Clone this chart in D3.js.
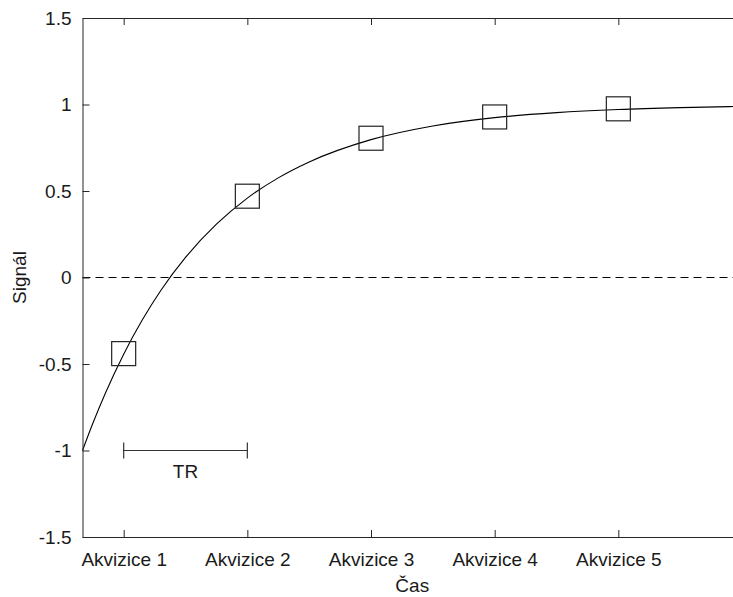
<!DOCTYPE html>
<html>
<head>
<meta charset="utf-8">
<script src="https://cdn.jsdelivr.net/npm/d3@7"></script>
<style>
  body { margin: 0; background: #fff; }
  text { font-family: "Liberation Sans", Arial, Helvetica, sans-serif; fill: #1a1a1a; }
</style>
</head>
<body>
<div id="wrapper"></div>
<script>
// data
const tickLabels = ["Akvizice 1", "Akvizice 2", "Akvizice 3", "Akvizice 4", "Akvizice 5"];
const acqTimes = [1, 2, 3, 4, 5];
const acqSignal = [-0.44, 0.47, 0.805, 0.928, 0.975];
const curveTime = [0.667, 0.75, 0.85, 1, 1.15, 1.3, 1.5, 1.75, 2, 2.25, 2.5, 3, 3.5, 4, 4.5, 5, 5.5, 6];
const curveSignal = [-1, -0.844, -0.672, -0.443, -0.246, -0.075, 0.116, 0.308, 0.459, 0.576, 0.668, 0.797, 0.876, 0.924, 0.953, 0.971, 0.982, 0.989];
const yTicks = [-1.5, -1, -0.5, 0, 0.5, 1, 1.5];
const trSpan = [1, 2];
const trLevel = -1;

const drawChart = () => {
    const width = 733, height = 597;
    let dimensions = {
        width: width,
        height: height,
        margin: { top: 18, right: -9, bottom: 60, left: 82.5 }
    };
    dimensions.boundedWidth = dimensions.width - dimensions.margin.left - dimensions.margin.right;
    dimensions.boundedHeight = dimensions.height - dimensions.margin.top - dimensions.margin.bottom;

    const svg = d3.select("#wrapper")
        .append("svg")
        .attr("width", dimensions.width)
        .attr("height", dimensions.height);

    const bounds = svg.append("g")
        .attr("transform", `translate(${dimensions.margin.left}, ${dimensions.margin.top})`);

    const xScale = d3.scaleLinear()
        .domain([0.667, 6])
        .range([0, dimensions.boundedWidth]);

    const yScale = d3.scaleLinear()
        .domain([-1.5, 1.5])
        .range([dimensions.boundedHeight, 0]);

    const axisColor = "#262626";
    const fs = "19px";

    // dashed zero line
    bounds.append("line")
        .attr("x1", 0).attr("x2", dimensions.boundedWidth)
        .attr("y1", yScale(0)).attr("y2", yScale(0))
        .attr("stroke", "#000")
        .attr("stroke-width", 1)
        .attr("stroke-dasharray", "8,5");

    // recovery curve
    const line = d3.line()
        .x((d, i) => xScale(curveTime[i]))
        .y(d => yScale(d))
        .curve(d3.curveMonotoneX);

    bounds.append("path")
        .datum(curveSignal)
        .attr("d", line)
        .attr("fill", "none")
        .attr("stroke", "#000")
        .attr("stroke-width", 1.1);

    // square markers
    const sq = 24;
    bounds.selectAll(".marker")
        .data(acqSignal)
        .enter()
        .append("rect")
        .attr("class", "marker")
        .attr("x", (d, i) => xScale(acqTimes[i]) - sq / 2)
        .attr("y", d => yScale(d) - sq / 2)
        .attr("width", sq)
        .attr("height", sq)
        .attr("fill", "none")
        .attr("stroke", "#222")
        .attr("stroke-width", 1.2);

    // TR bracket
    const tr = bounds.append("g");
    tr.append("line")
        .attr("x1", xScale(trSpan[0])).attr("x2", xScale(trSpan[1]))
        .attr("y1", yScale(trLevel)).attr("y2", yScale(trLevel))
        .attr("stroke", "#333").attr("stroke-width", 1.2);
    trSpan.forEach(t => {
        tr.append("line")
            .attr("x1", xScale(t)).attr("x2", xScale(t))
            .attr("y1", yScale(trLevel) - 8).attr("y2", yScale(trLevel) + 8)
            .attr("stroke", "#333").attr("stroke-width", 1.2);
    });
    tr.append("text")
        .attr("x", xScale((trSpan[0] + trSpan[1]) / 2))
        .attr("y", yScale(trLevel) + 27)
        .attr("text-anchor", "middle")
        .style("font-size", fs)
        .text("TR");

    // axes
    const xAxis = d3.axisBottom(xScale)
        .tickValues(acqTimes)
        .tickFormat((d, i) => tickLabels[i])
        .tickSizeInner(-7)
        .tickSizeOuter(0)
        .tickPadding(16);
    const xAxisG = bounds.append("g")
        .attr("transform", `translate(0, ${dimensions.boundedHeight})`)
        .call(xAxis);

    const xTop = d3.axisTop(xScale)
        .tickValues(acqTimes)
        .tickFormat("")
        .tickSizeInner(-7)
        .tickSizeOuter(0);
    const xTopG = bounds.append("g").call(xTop);

    const yAxis = d3.axisLeft(yScale)
        .tickValues(yTicks)
        .tickFormat(d3.format("~g"))
        .tickSizeInner(-7)
        .tickSizeOuter(0)
        .tickPadding(11);
    const yAxisG = bounds.append("g").call(yAxis);

    [xAxisG, xTopG, yAxisG].forEach(g => {
        g.select(".domain").attr("stroke", axisColor).attr("stroke-width", 1);
        g.selectAll(".tick line").attr("stroke", axisColor);
        g.selectAll(".tick text")
            .style("font-size", fs)
            .style("font-family", "'Liberation Sans', Arial, sans-serif")
            .attr("fill", "#1a1a1a");
    });
    yAxisG.selectAll(".tick text").text(d => d3.format("~g")(d).replace("−", "-"));

    // axis labels
    svg.append("text")
        .attr("x", dimensions.margin.left + dimensions.boundedWidth / 2)
        .attr("y", 592)
        .attr("text-anchor", "middle")
        .style("font-size", fs)
        .text("Čas");

    svg.append("text")
        .attr("transform", `translate(26, ${dimensions.margin.top + dimensions.boundedHeight / 2}) rotate(-90)`)
        .attr("text-anchor", "middle")
        .style("font-size", fs)
        .text("Signál");
};

drawChart();
</script>
</body>
</html>
